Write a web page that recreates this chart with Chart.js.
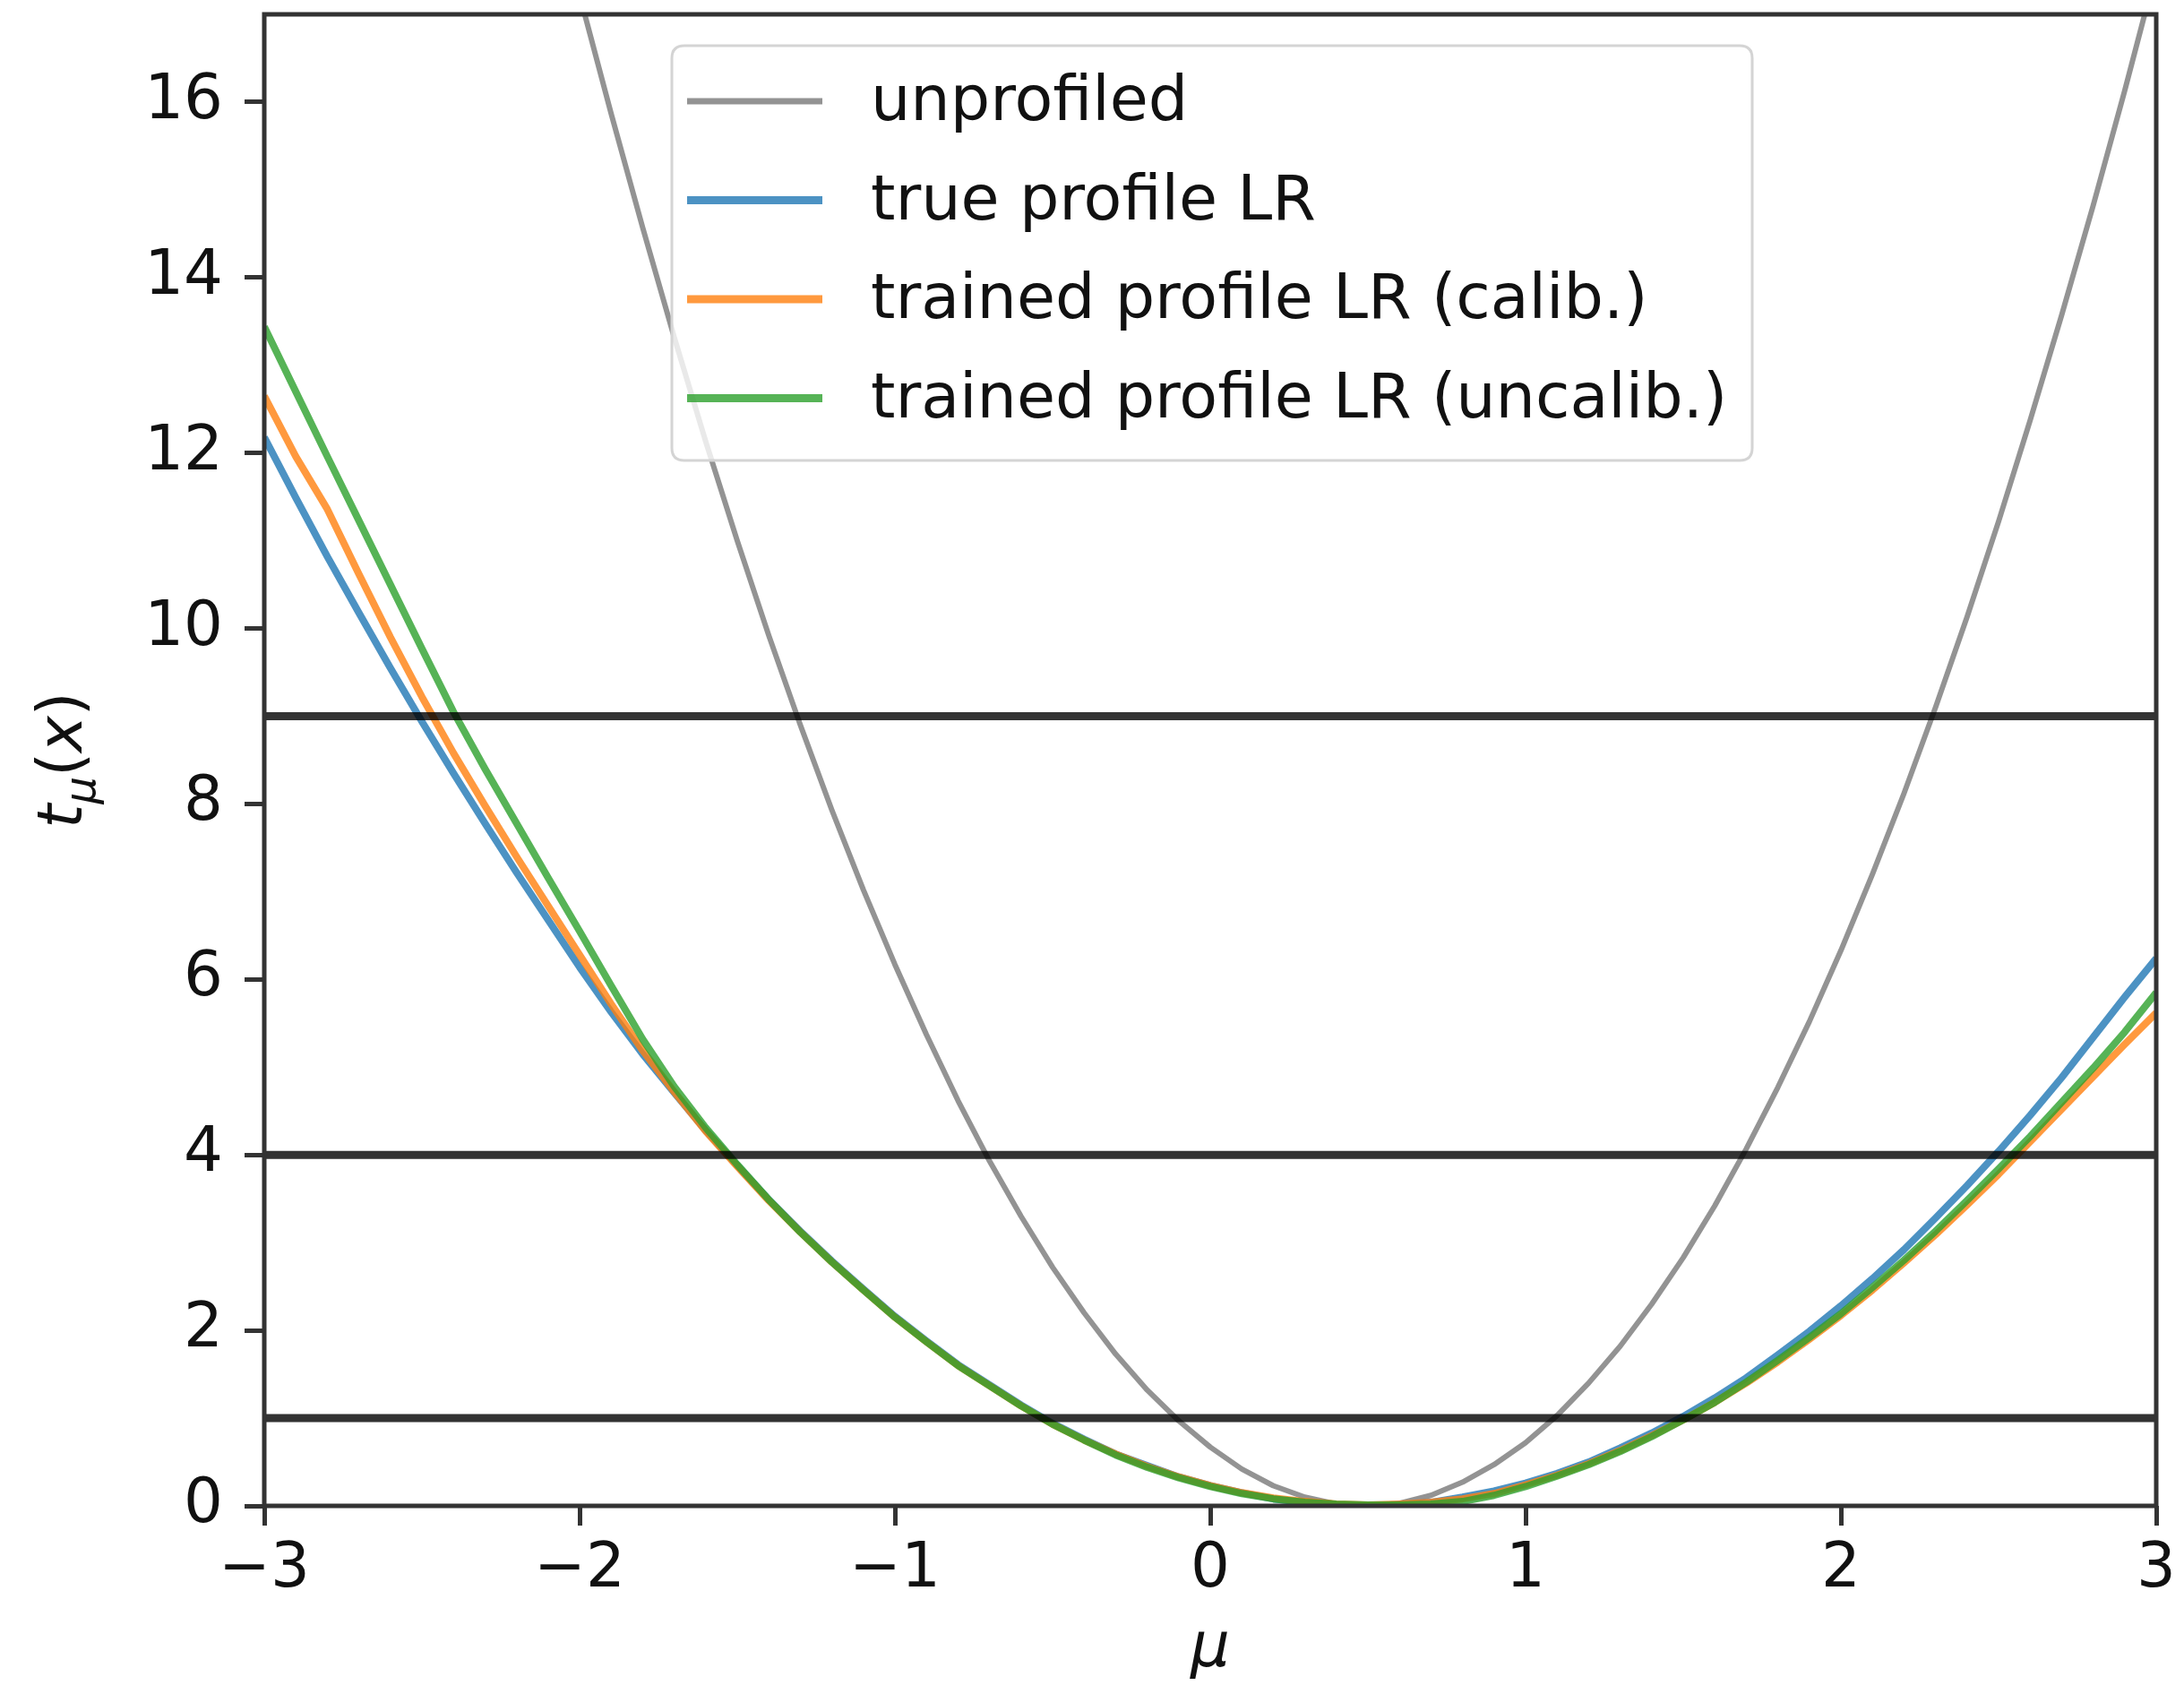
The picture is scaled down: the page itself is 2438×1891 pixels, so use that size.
<!DOCTYPE html>
<html>
<head>
<meta charset="utf-8">
<script src="https://cdn.jsdelivr.net/npm/chart.js@4.4.1/dist/chart.umd.min.js"></script>
<style>
  html, body { margin: 0; padding: 0; background: #ffffff; }
  #wrap { width: 2438px; height: 1891px; }
</style>
</head>
<body>
<div id="wrap"><canvas id="chart" width="2438" height="1891"></canvas></div>
<script>
// Signal strength grid (mu) shared by every curve
const mu = [
  -3.0, -2.9, -2.8, -2.7, -2.6, -2.5, -2.4, -2.3, -2.2, -2.1,
  -2.0, -1.9, -1.8, -1.7, -1.6, -1.5, -1.4, -1.3, -1.2, -1.1,
  -1.0, -0.9, -0.8, -0.7, -0.6, -0.5, -0.4, -0.3, -0.2, -0.1,
   0.0,  0.1,  0.2,  0.3,  0.4,  0.5,  0.6,  0.7,  0.8,  0.9,
   1.0,  1.1,  1.2,  1.3,  1.4,  1.5,  1.6,  1.7,  1.8,  1.9,
   2.0,  2.1,  2.2,  2.3,  2.4,  2.5,  2.6,  2.7,  2.8,  2.9,
   3.0
];

// Test statistic t_mu(x) for each method
const unprofiled = [
  33.83, 31.92, 30.07, 28.27, 26.52, 24.83, 23.20, 21.62, 20.10, 18.63,
  17.22, 15.87, 14.57, 13.32, 12.13, 11.00,  9.92,  8.90,  7.93,  7.02,
   6.17,  5.37,  4.62,  3.93,  3.30,  2.72,  2.20,  1.73,  1.32,  0.97,
   0.67,  0.42,  0.23,  0.10,  0.02,  0.00,  0.03,  0.12,  0.27,  0.47,
   0.72,  1.03,  1.40,  1.82,  2.30,  2.83,  3.42,  4.07,  4.77,  5.52,
   6.33,  7.20,  8.12,  9.10, 10.13, 11.22, 12.37, 13.57, 14.82, 16.13,
  17.50
];
const trueProfile = [
  12.18, 11.49, 10.82, 10.18,  9.55,  8.94,  8.35,  7.78,  7.22,  6.68,
   6.14,  5.63,  5.15,  4.71,  4.28,  3.88,  3.49,  3.13,  2.79,  2.47,
   2.16,  1.88,  1.61,  1.38,  1.15,  0.94,  0.76,  0.59,  0.46,  0.33,
   0.23,  0.15,  0.08,  0.04,  0.01,  0.00,  0.01,  0.04,  0.10,  0.17,
   0.26,  0.37,  0.50,  0.66,  0.83,  1.02,  1.23,  1.46,  1.72,  1.99,
   2.28,  2.59,  2.92,  3.28,  3.65,  4.04,  4.45,  4.88,  5.34,  5.80,
   6.24
];
const trainedCalib = [
  12.65, 11.96, 11.36, 10.62,  9.90,  9.22,  8.58,  7.98,  7.40,  6.84,
   6.28,  5.72,  5.19,  4.72,  4.27,  3.87,  3.48,  3.12,  2.78,  2.46,
   2.15,  1.87,  1.60,  1.37,  1.14,  0.93,  0.75,  0.59,  0.45,  0.33,
   0.23,  0.15,  0.09,  0.05,  0.02,  0.01,  0.02,  0.04,  0.08,  0.14,
   0.24,  0.35,  0.48,  0.63,  0.80,  0.98,  1.18,  1.40,  1.64,  1.90,
   2.17,  2.46,  2.77,  3.09,  3.43,  3.78,  4.15,  4.52,  4.89,  5.26,
   5.62
];
const trainedUncalib = [
  13.44, 12.70, 11.96, 11.23, 10.50,  9.77,  9.05,  8.40,  7.78,  7.16,
   6.55,  5.93,  5.32,  4.78,  4.31,  3.89,  3.49,  3.12,  2.78,  2.46,
   2.15,  1.87,  1.60,  1.37,  1.14,  0.93,  0.75,  0.58,  0.44,  0.32,
   0.22,  0.14,  0.08,  0.04,  0.02,  0.01,  0.01,  0.02,  0.05,  0.12,
   0.22,  0.34,  0.47,  0.62,  0.79,  0.98,  1.18,  1.41,  1.66,  1.92,
   2.19,  2.49,  2.80,  3.13,  3.48,  3.84,  4.21,  4.60,  4.99,  5.40,
   5.85
];

// Reference levels (1, 2, 3 sigma)
const thresholds = [1, 4, 9];

// Axis ticks
const xTicks = [-3, -2, -1, 0, 1, 2, 3];
const yTicks = [0, 2, 4, 6, 8, 10, 12, 14, 16];

const seriesLabels = [
  'unprofiled',
  'true profile LR',
  'trained profile LR (calib.)',
  'trained profile LR (uncalib.)'
];

const FONT = "'DejaVu Sans', 'Liberation Sans', sans-serif";
const TEXT = '#111111';
const SIZE = 69;
const LEGEND_SIZE = 70;

const toPoints = ys => mu.map((x, i) => ({ x: x, y: ys[i] }));
const fmtTick = v => (v < 0 ? '\u2212' + Math.abs(v) : String(v));

const curveStyles = [
  { color: 'rgba(120,120,120,0.8)', width: 6 },
  { color: 'rgba(31,119,180,0.8)', width: 8 },
  { color: 'rgba(255,127,14,0.8)', width: 8 },
  { color: 'rgba(44,160,44,0.8)', width: 8 }
];
const curveValues = [unprofiled, trueProfile, trainedCalib, trainedUncalib];

const curveSets = curveValues.map((vals, i) => ({
  label: seriesLabels[i],
  data: toPoints(vals),
  borderColor: curveStyles[i].color,
  borderWidth: curveStyles[i].width,
  order: 5 - i,
  inLegend: true
}));

const levelSets = thresholds.map(t => ({
  label: 'level ' + t,
  data: [{ x: xTicks[0], y: t }, { x: xTicks[xTicks.length - 1], y: t }],
  borderColor: 'rgba(0,0,0,0.8)',
  borderWidth: 9,
  order: 0,
  inLegend: false
}));

// Keep the plotting area fixed: no extra room for edge tick labels
const noEdgePadding = s => {
  s.paddingTop = 0; s.paddingBottom = 0; s.paddingLeft = 0; s.paddingRight = 0;
};

// Full box around the plotting area
const framePlugin = {
  id: 'frame',
  afterDatasetsDraw(chart) {
    const { ctx, chartArea: a } = chart;
    ctx.save();
    ctx.strokeStyle = '#333333';
    ctx.lineWidth = 5;
    ctx.strokeRect(a.left, a.top, a.right - a.left, a.bottom - a.top);
    ctx.restore();
  }
};

// Framed legend placed inside the plotting area
const insideLegend = {
  id: 'insideLegend',
  afterDatasetsDraw(chart) {
    const { ctx, chartArea: a } = chart;
    const items = chart.data.datasets.filter(d => d.inLegend);
    const bx = a.left + 455, by = a.top + 35, bw = 1206, bh = 463, r = 14;
    ctx.save();
    ctx.beginPath();
    ctx.moveTo(bx + r, by);
    ctx.lineTo(bx + bw - r, by);
    ctx.quadraticCurveTo(bx + bw, by, bx + bw, by + r);
    ctx.lineTo(bx + bw, by + bh - r);
    ctx.quadraticCurveTo(bx + bw, by + bh, bx + bw - r, by + bh);
    ctx.lineTo(bx + r, by + bh);
    ctx.quadraticCurveTo(bx, by + bh, bx, by + bh - r);
    ctx.lineTo(bx, by + r);
    ctx.quadraticCurveTo(bx, by, bx + r, by);
    ctx.closePath();
    ctx.fillStyle = 'rgba(255,255,255,0.8)';
    ctx.fill();
    ctx.strokeStyle = '#d4d4d4';
    ctx.lineWidth = 3;
    ctx.stroke();

    ctx.font = LEGEND_SIZE + 'px ' + FONT;
    ctx.textBaseline = 'middle';
    ctx.textAlign = 'left';
    items.forEach((d, i) => {
      const y = by + 62 + i * 110.5;
      ctx.beginPath();
      ctx.moveTo(bx + 17, y);
      ctx.lineTo(bx + 168, y);
      ctx.strokeStyle = d.borderColor;
      ctx.lineWidth = d.borderWidth + 1;
      ctx.lineCap = 'butt';
      ctx.stroke();
      ctx.fillStyle = TEXT;
      ctx.fillText(d.label, bx + 222, y + 3);
    });
    ctx.restore();
  }
};

// Rotated y-axis title with math-style subscript: t_mu(x)
const yTitlePlugin = {
  id: 'yTitle',
  afterDraw(chart) {
    const { ctx, chartArea: a } = chart;
    const cx = a.left - 204;
    const cy = (a.top + a.bottom) / 2;
    const pieces = [
      { t: 't', f: 'italic ' + SIZE + 'px ' + FONT, dy: 0 },
      { t: '\u03bc', f: 'italic ' + Math.round(SIZE * 0.7) + 'px ' + FONT, dy: 15 },
      { t: '(', f: SIZE + 'px ' + FONT, dy: 0 },
      { t: 'x', f: 'italic ' + SIZE + 'px ' + FONT, dy: 0 },
      { t: ')', f: SIZE + 'px ' + FONT, dy: 0 }
    ];
    ctx.save();
    ctx.translate(cx, cy);
    ctx.rotate(-Math.PI / 2);
    ctx.fillStyle = TEXT;
    ctx.textBaseline = 'alphabetic';
    ctx.textAlign = 'left';
    let total = 0;
    pieces.forEach(p => { ctx.font = p.f; p.w = ctx.measureText(p.t).width; total += p.w; });
    let x = -total / 2;
    pieces.forEach(p => { ctx.font = p.f; ctx.fillText(p.t, x, p.dy); x += p.w; });
    ctx.restore();
  }
};

new Chart(document.getElementById('chart'), {
  type: 'line',
  data: { datasets: curveSets.concat(levelSets) },
  options: {
    responsive: false,
    animation: false,
    events: [],
    layout: { padding: { left: 0, right: 31, top: 16, bottom: 0 } },
    elements: {
      point: { radius: 0 },
      line: { tension: 0, borderCapStyle: 'butt', borderJoinStyle: 'round', fill: false }
    },
    datasets: { line: { clip: 0 } },
    plugins: { legend: { display: false }, tooltip: { enabled: false } },
    scales: {
      x: {
        type: 'linear',
        min: xTicks[0],
        max: xTicks[xTicks.length - 1],
        afterBuildTicks: s => { s.ticks = xTicks.map(v => ({ value: v })); },
        afterFit: s => { s.height = 210; noEdgePadding(s); },
        grid: { display: true, drawOnChartArea: false, drawTicks: true, tickLength: 22, tickWidth: 5, tickColor: '#333333' },
        border: { display: false },
        ticks: { color: TEXT, font: { family: FONT, size: SIZE }, padding: 9, maxRotation: 0, autoSkip: false, callback: v => fmtTick(v) },
        title: { display: true, text: '\u03bc', color: TEXT, font: { family: FONT, size: SIZE, style: 'italic' }, padding: { top: 0, bottom: 8 } }
      },
      y: {
        type: 'linear',
        min: 0,
        max: 17,
        afterBuildTicks: s => { s.ticks = yTicks.map(v => ({ value: v })); },
        afterFit: s => { s.width = 295; noEdgePadding(s); },
        grid: { display: true, drawOnChartArea: false, drawTicks: true, tickLength: 22, tickWidth: 5, tickColor: '#333333' },
        border: { display: false },
        ticks: { color: TEXT, font: { family: FONT, size: SIZE }, padding: 24, autoSkip: false, callback: v => fmtTick(v) }
      }
    }
  },
  plugins: [framePlugin, insideLegend, yTitlePlugin]
});
</script>
</body>
</html>
